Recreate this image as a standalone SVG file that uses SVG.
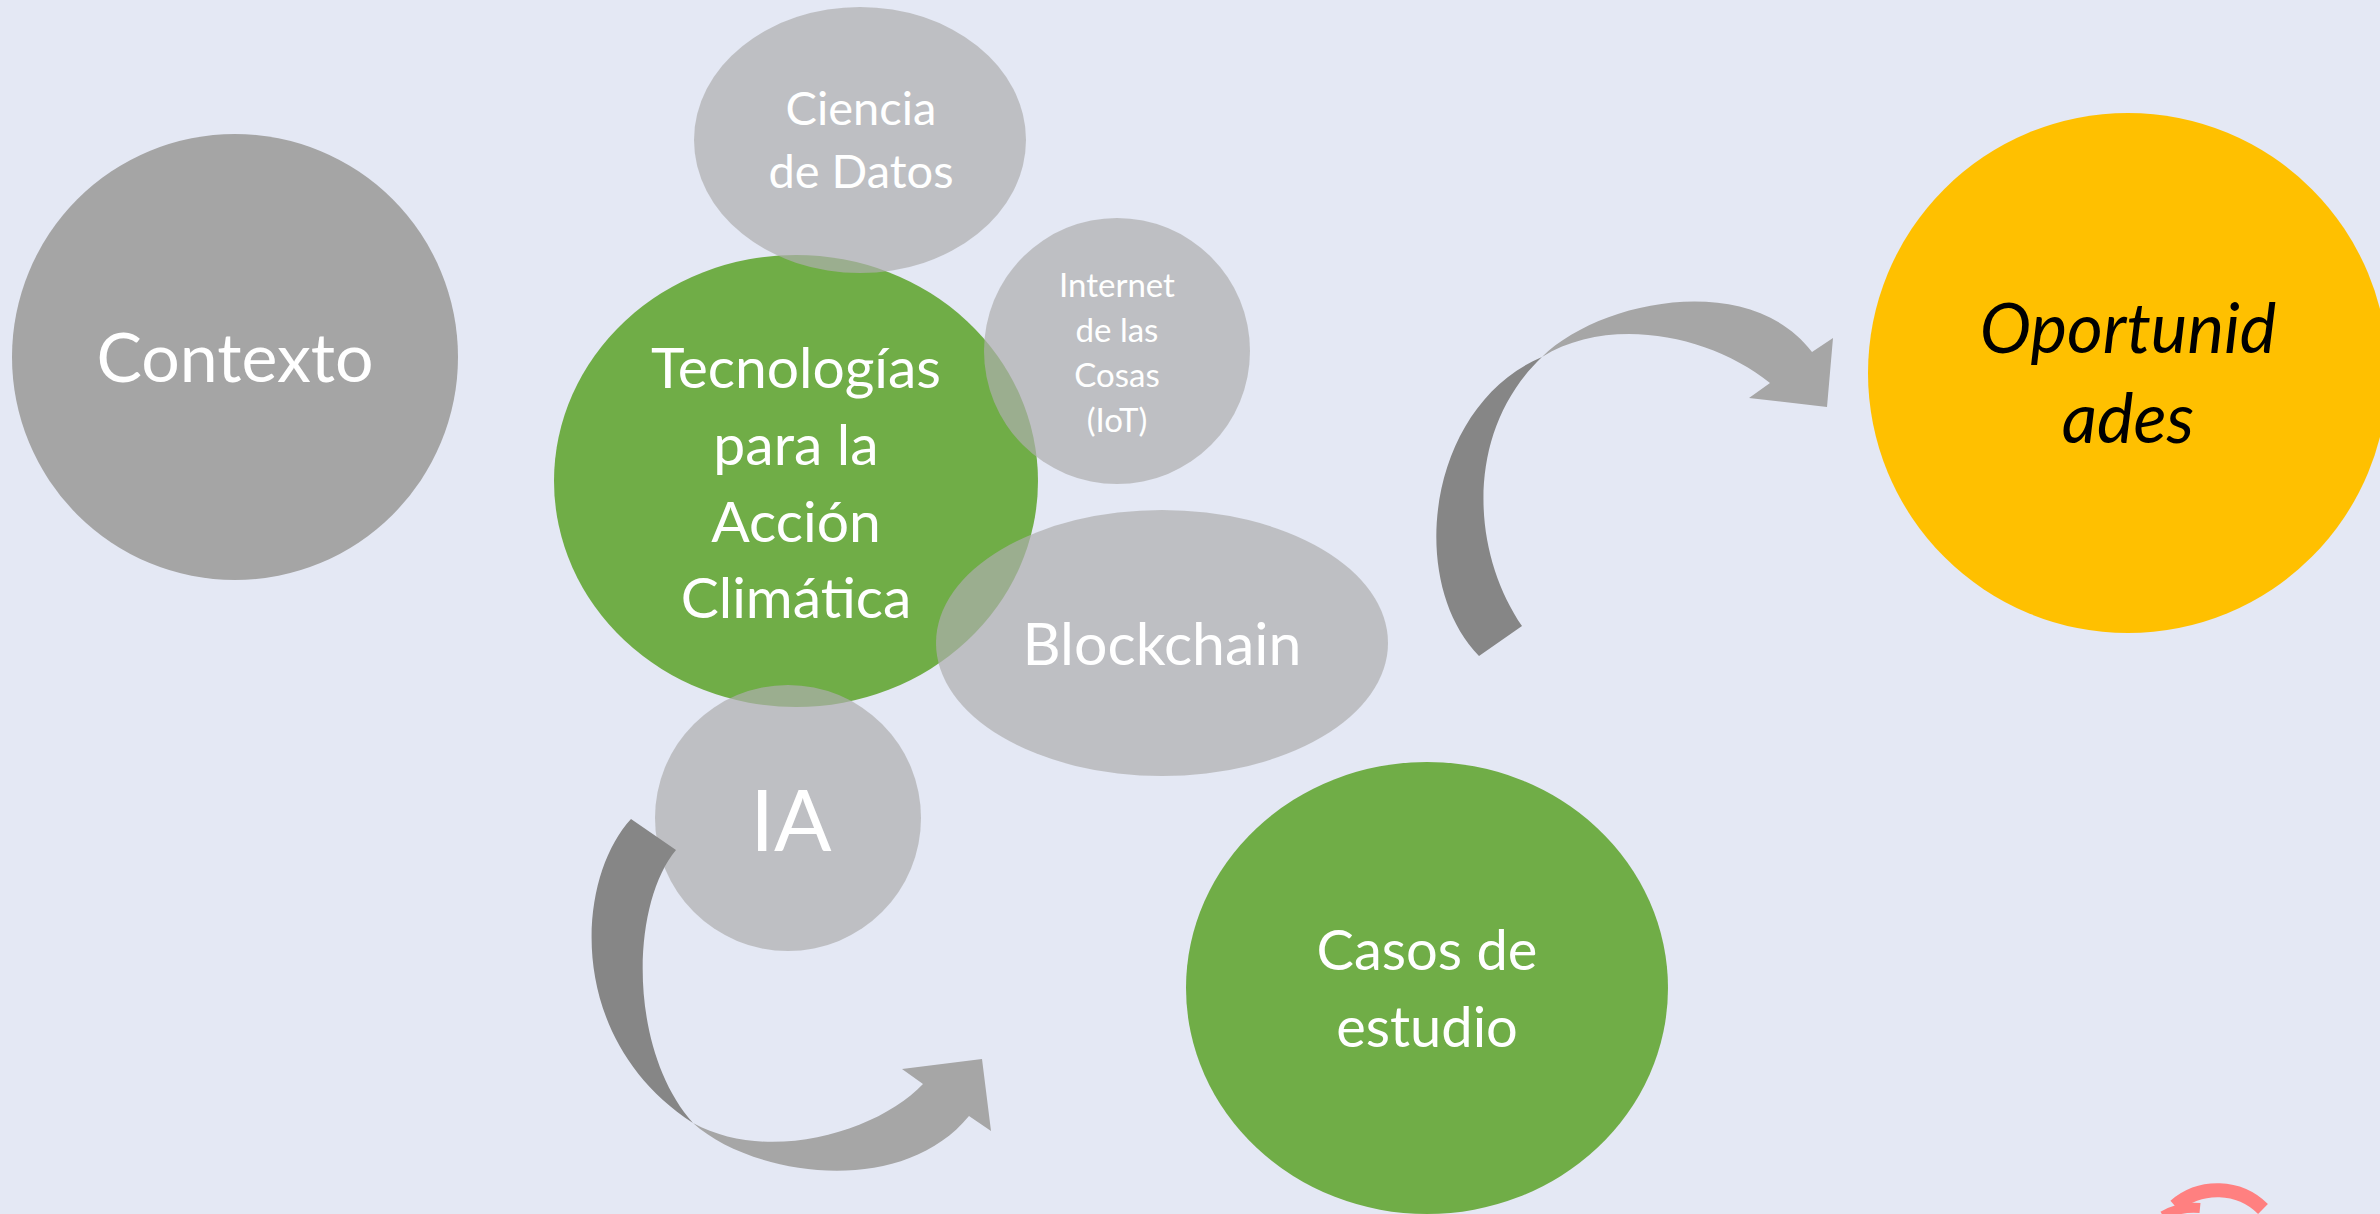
<svg xmlns="http://www.w3.org/2000/svg" width="2380" height="1214" viewBox="0 0 2380 1214">
<style>
.t{font-family:Lato,"Open Sans","Liberation Sans",sans-serif;fill:#FFFFFF;text-anchor:middle}
.semi{fill:#AEAEAE;fill-opacity:0.7}
.green{fill:#70AD47}
.dark{fill:#868686}
.light{fill:#A6A6A6}
</style>
<rect x="0" y="0" width="2380" height="1214" fill="#E4E8F4"/>
<g id="contexto">
<circle cx="235" cy="357" r="223" fill="#A5A5A5"/>
<text class="t" x="235" y="382" font-size="68">Contexto</text>
</g>
<g id="tecnologias">
<ellipse class="green" cx="796" cy="481" rx="242" ry="226"/>
<text class="t" font-size="57"><tspan x="796" y="388">Tecnologías</tspan><tspan x="796" y="465">para la</tspan><tspan x="796" y="542">Acción</tspan><tspan x="796" y="618">Climática</tspan></text>
</g>
<g id="casos">
<ellipse class="green" cx="1427" cy="988" rx="241" ry="226"/>
<text class="t" font-size="56"><tspan x="1427" y="970">Casos de</tspan><tspan x="1427" y="1047">estudio</tspan></text>
</g>
<g id="ciencia">
<ellipse class="semi" cx="860" cy="140" rx="166" ry="133"/>
<text class="t" font-size="47"><tspan x="861" y="125">Ciencia</tspan><tspan x="861" y="188">de Datos</tspan></text>
</g>
<g id="iot">
<circle class="semi" cx="1117" cy="351" r="133"/>
<text class="t" font-size="33"><tspan x="1117" y="297">Internet</tspan><tspan x="1117" y="342">de las</tspan><tspan x="1117" y="387">Cosas</tspan><tspan x="1117" y="432">(IoT)</tspan></text>
</g>
<g id="blockchain">
<ellipse class="semi" cx="1162" cy="643" rx="226" ry="133"/>
<text class="t" x="1162" y="665" font-size="59">Blockchain</text>
</g>
<g id="ia">
<circle class="semi" cx="788" cy="818" r="133"/>
<text class="t" x="791" y="851" font-size="85">IA</text>
</g>
<g id="oportunidades">
<circle cx="2128" cy="373" r="260" fill="#FFC000"/>
<text class="t" font-size="69" font-style="italic" style="fill:#000000"><tspan x="2128" y="353">Oportunid</tspan><tspan x="2128" y="443">ades</tspan></text>
</g>
<g id="connectors">
<g id="arrow-ia-casos">
<path class="dark" d="M631,819 L676,850 C630,905 628,1050 693,1123 C565,1040 575,880 631,819 Z"/>
<path class="light" d="M693,1123 C750,1175 900,1200 969,1116 L991,1131 L982,1059 L902,1069 L923,1084 C880,1130 770,1165 693,1123 Z"/>
</g>
<g id="arrow-casos-oportunidades">
<path class="dark" d="M1479,656 L1522,626 C1470,550 1465,430 1542,357 C1428,405 1405,580 1479,656 Z"/>
<path class="light" d="M1542,357 C1600,300 1750,270 1812,352 L1833,338 L1827,407 L1749,398 L1770,383 C1710,335 1610,315 1542,357 Z"/>
</g>
</g>
<g id="logo-fragment" fill="none" stroke="#FF8080" stroke-width="14">
<path d="M2175,1206 A65,65 0 0 1 2263,1209"/>
<path d="M2163,1216 Q2180,1206 2200,1208" stroke-width="10"/>
</g>
</svg>
